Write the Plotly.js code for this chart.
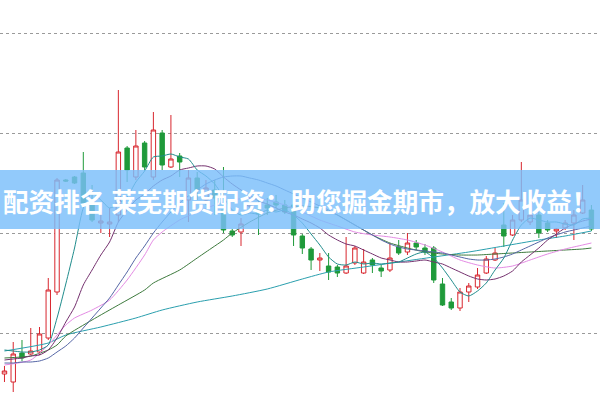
<!DOCTYPE html>
<html><head><meta charset="utf-8">
<script src="https://cdn.plot.ly/plotly-3.0.1.min.js"></script>
<style>html,body{margin:0;padding:0;background:#fff}#chart{width:600px;height:400px}</style>
</head><body><div id="chart"></div>
<script>
const bannerText = "配资排名 莱芜期货配资：助您掘金期市，放大收益！";
const yTicks = [3100, 3200, 3300, 3400];

const openP  = [3059,3051,3080,3079,3081,3095,3141,3253,3256,3260,3228,3210,3209,3218,3285,3256,3290,3256,3300,3266,3277,3233,3255,3233,3243,3223,3202,3201,3227,3223,3228,3231,3228,3228,3197,3184,3173,3167,3166,3160,3170,3160,3173,3165,3163,3186,3181,3190,3185,3185,3149,3131,3125,3141,3146,3160,3173,3208,3198,3213,3211,3218,3210,3202,3205,3210,3220,3223];
const closeP = [3062,3079,3075,3082,3099,3143,3253,3252,3250,3230,3213,3212,3211,3281,3263,3287,3266,3303,3268,3274,3271,3255,3243,3245,3235,3203,3198,3209,3229,3219,3225,3228,3221,3198,3185,3173,3175,3161,3160,3167,3185,3171,3168,3162,3175,3180,3190,3186,3181,3153,3128,3125,3141,3147,3158,3174,3180,3197,3213,3233,3218,3200,3203,3204,3210,3218,3233,3204];
const highP  = [3067,3091,3093,3105,3106,3155,3255,3254,3257,3281,3248,3221,3225,3343,3287,3303,3292,3321,3303,3318,3280,3263,3261,3253,3253,3266,3204,3215,3238,3233,3235,3238,3233,3238,3199,3186,3180,3180,3168,3196,3187,3184,3175,3168,3190,3193,3200,3193,3189,3187,3155,3135,3145,3150,3165,3177,3185,3230,3218,3271,3223,3221,3213,3205,3213,3223,3248,3228];
const lowP   = [3051,3041,3072,3078,3078,3093,3138,3251,3249,3228,3211,3200,3196,3211,3251,3253,3262,3253,3263,3265,3256,3211,3233,3228,3218,3200,3196,3187,3223,3198,3218,3225,3219,3187,3179,3163,3162,3153,3156,3159,3168,3159,3160,3156,3161,3178,3178,3183,3178,3150,3127,3123,3122,3131,3144,3159,3172,3186,3197,3211,3208,3195,3201,3195,3203,3193,3219,3202];

const ma5 = [3083,3082,3081,3081,3083,3088,3115,3149,3185,3225,3240,3233,3225,3229,3236,3251,3262,3276,3277,3279,3276,3274,3263,3257,3249,3236,3223,3218,3220,3219,3223,3221,3223,3218,3210,3199,3188,3176,3169,3168,3171,3169,3170,3169,3170,3171,3175,3179,3181,3175,3165,3153,3141,3137,3142,3150,3163,3175,3193,3208,3215,3213,3211,3211,3209,3208,3214,3215];
const ma10 = [3073,3074,3075,3077,3078,3083,3095,3111,3126,3148,3163,3178,3191,3211,3223,3233,3239,3247,3253,3257,3263,3265,3267,3267,3264,3256,3249,3243,3238,3232,3229,3225,3221,3218,3214,3210,3205,3198,3193,3189,3187,3183,3179,3175,3173,3171,3171,3172,3173,3171,3169,3165,3161,3157,3154,3153,3154,3157,3162,3171,3178,3185,3193,3199,3205,3209,3212,3214];
const ma20 = [3070,3070,3071,3071,3072,3075,3081,3087,3095,3105,3115,3125,3135,3148,3161,3175,3187,3200,3211,3221,3230,3237,3243,3249,3253,3256,3257,3257,3255,3253,3250,3247,3243,3239,3235,3231,3227,3223,3218,3213,3208,3203,3198,3193,3189,3186,3184,3183,3182,3181,3180,3178,3176,3174,3173,3173,3174,3176,3179,3183,3187,3191,3195,3198,3201,3203,3205,3207];
const ma30Idx = [0,3,5,6,7,8,10,12,14,16,17,18,20,22,24,26,28,30,32,34,36,38,40,42,44,46,48,50,52,54,56,58,60,62,64,66,67];
const ma30 = [3068,3073,3088,3098,3108,3115,3123,3133,3153,3178,3193,3201,3213,3221,3228,3233,3235,3233,3228,3221,3213,3207,3201,3198,3196,3193,3188,3181,3173,3168,3165,3167,3173,3179,3184,3188,3190];
const ma60Idx = [0,3,5,6,7,10,13,16,17,20,22,23,25,26,28,30,32,34,36,38,40,42,44,46,48,50,52,54,56,58,60,62,64,66,67];
const ma60 = [3075,3077,3083,3088,3097,3113,3128,3143,3150,3163,3175,3181,3193,3200,3211,3220,3225,3227,3225,3218,3208,3198,3190,3185,3181,3179,3178,3178,3179,3180,3181,3182,3183,3184,3185];
const ma120Idx = [0,5,7,11,15,18,22,26,30,34,37,41,45,49,53,57,61,64,67];
const ma120 = [3082,3090,3098,3106,3115,3123,3131,3137,3144,3154,3161,3166,3171,3176,3181,3187,3193,3197,3202];

const idx = openP.map((_, i) => i);

const lineTrace = (x, y, color) => ({
  type: 'scatter', mode: 'lines', x: x, y: y,
  line: {color: color, width: 1, shape: 'spline', smoothing: 0.6},
  hoverinfo: 'skip'
});

const data = [
  {
    type: 'candlestick', x: idx, open: openP, high: highP, low: lowP, close: closeP,
    increasing: {line: {color: '#d8262e', width: 1}, fillcolor: '#ffffff'},
    decreasing: {line: {color: '#1f9a3a', width: 1}, fillcolor: '#1f9a3a'},
    whiskerwidth: 0, hoverinfo: 'skip'
  },
  lineTrace(ma120Idx, ma120, '#2a9fae'),
  lineTrace(ma60Idx, ma60, '#3d7a3d'),
  lineTrace(ma30Idx, ma30, '#e48ae4'),
  lineTrace(idx, ma20, '#5566a6'),
  lineTrace(idx, ma10, '#74306e'),
  lineTrace(idx, ma5, '#1f8c8c')
];

const layout = {
  width: 600, height: 400,
  margin: {l: 0, r: 0, t: 0, b: 0, pad: 0},
  paper_bgcolor: '#ffffff', plot_bgcolor: '#ffffff',
  showlegend: false, hovermode: false,
  boxgap: 0.28,
  xaxis: {range: [-0.51, 67.98], showgrid: false, zeroline: false, showticklabels: false,
          showline: false, ticks: '', rangeslider: {visible: false}, fixedrange: true},
  yaxis: {range: [3033, 3433], tickvals: yTicks, showgrid: true, gridcolor: '#9a9a9a',
          griddash: 'dot', gridwidth: 1, zeroline: false, showticklabels: false, ticks: '', showline: false},
  shapes: [{type: 'rect', xref: 'paper', yref: 'paper', x0: 0, x1: 1, y0: 0.4275, y1: 0.575,
            fillcolor: 'rgba(122,190,250,0.82)', line: {width: 0}, layer: 'above'}],
  annotations: [{text: '<b>' + bannerText + '</b>', xref: 'paper', yref: 'paper', x: 0.5, y: 0.5,
                 xanchor: 'center', yanchor: 'middle', showarrow: false,
                 font: {family: 'Noto Sans CJK SC', size: 25.6, color: '#ffffff'}}]
};

Plotly.newPlot('chart', data, layout, {displayModeBar: false, staticPlot: true});
</script>
</body></html>
